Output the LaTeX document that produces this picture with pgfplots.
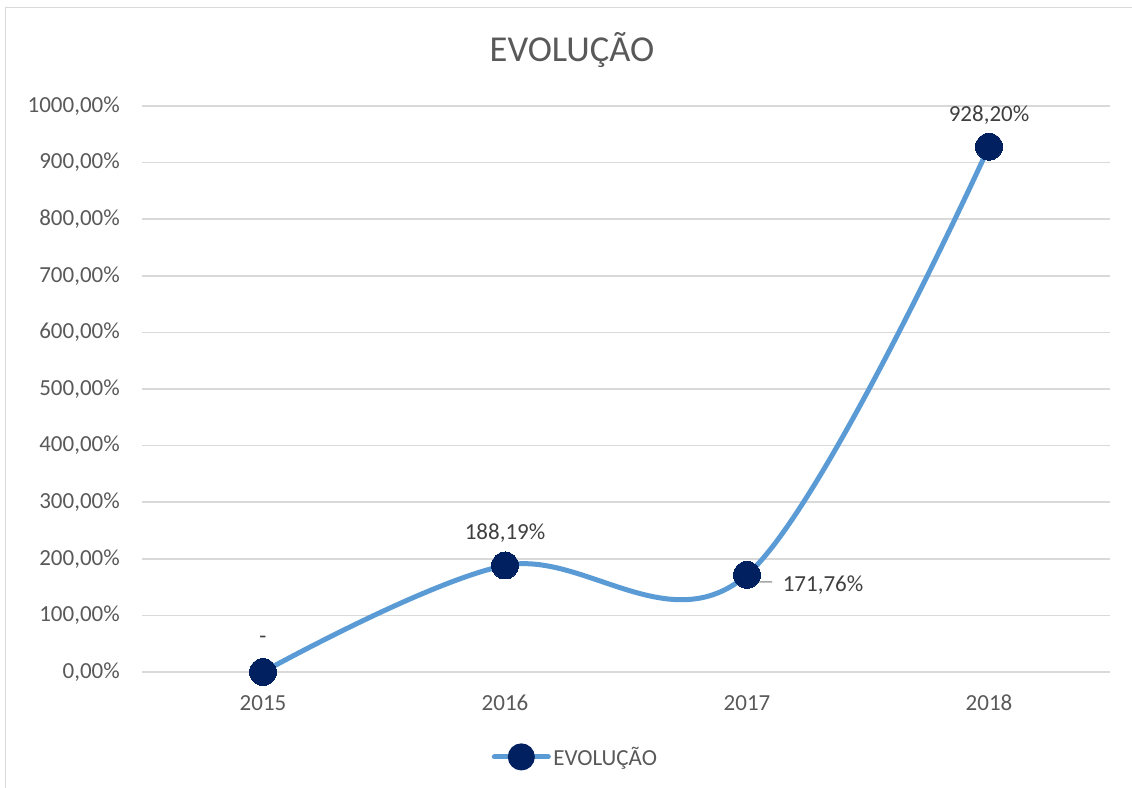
\documentclass[border=0pt]{standalone}
\usepackage{fontspec}
\setmainfont{Carlito}
\usepackage{pgfplots}
\pgfplotsset{compat=1.18}
\definecolor{linecol}{HTML}{5B9BD5}
\definecolor{markcol}{HTML}{002060}
\definecolor{txt}{HTML}{595959}
\definecolor{lbl}{HTML}{404040}
\definecolor{gridc}{HTML}{D9D9D9}
\newcommand{\tfont}{\fontsize{23}{27}\selectfont}

\begin{document}
\begin{tikzpicture}[x=1pt,y=1pt]
\useasboundingbox (0,0) rectangle (1132,787);
\draw[gridc, line width=1.5pt] (5.5,-10) -- (5.5,779.5) -- (1140,779.5);
\node[txt, font=\fontsize{36.5}{40}\selectfont] at (572,737) {EVOLUÇÃO};
\begin{axis}[
  at={(142pt,115pt)}, anchor=south west,
  scale only axis, width=968pt, height=566pt,
  xmin=-0.5, xmax=3.5, ymin=0, ymax=1000,
  clip=false,
  axis line style={draw=none},
  major tick length=0pt,
  xtick={0,1,2,3}, xticklabels={2015,2016,2017,2018},
  ytick={0,100,...,1000},
  yticklabels={{0,00\%},{100,00\%},{200,00\%},{300,00\%},{400,00\%},{500,00\%},{600,00\%},{700,00\%},{800,00\%},{900,00\%},{1000,00\%}},
  ymajorgrids, grid style={gridc, line width=1.5pt},
  tick label style={txt, font=\tfont, inner sep=0pt},
  yticklabel style={anchor=east, xshift=-22pt},
  xticklabel style={anchor=north, yshift=-23pt},
  legend style={at={(0.448,-0.150)}, anchor=center, draw=none, fill=none,
    font=\tfont, text=txt, nodes={inner sep=2.5pt}},
  legend image code/.code={
    \draw[linecol, line width=5pt, line cap=round] (0pt,0pt) -- (54pt,0pt);
    \fill[markcol] (27pt,0pt) circle (11pt);},
]
\addplot[linecol, line width=5pt, smooth, tension=0.58, mark=*, mark size=13.5pt,
  mark options={fill=markcol, draw=markcol, line width=0pt}]
  coordinates {(0,0) (1,188.19) (2,171.76) (3,928.2)};
\addlegendentry{EVOLUÇÃO}
\draw[gray!70, line width=1.5pt] (axis cs:2,171.76) -- ++(13pt,-7pt) -- ++(12pt,0pt);
\addplot[draw=none, mark=none, nodes near coords, point meta=explicit symbolic,
  nodes near coords style={lbl, font=\tfont, anchor=center, yshift=32pt}, forget plot]
  coordinates {(0,0) [-] (1,188.19) [188,19\%] (3,928.2) [928,20\%]};
\addplot[draw=none, mark=none, nodes near coords, point meta=explicit symbolic,
  nodes near coords style={lbl, font=\tfont, anchor=center, xshift=76pt, yshift=-10pt}, forget plot]
  coordinates {(2,171.76) [171,76\%]};
\end{axis}
\end{tikzpicture}
\end{document}
